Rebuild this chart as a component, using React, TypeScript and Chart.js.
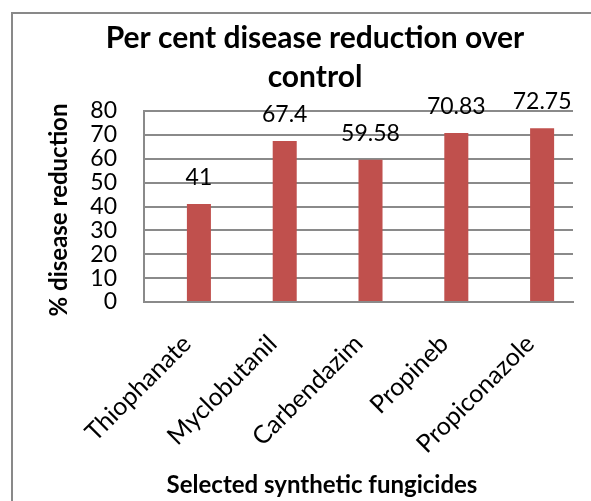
import React, { useEffect, useRef } from "react";
import { Chart, registerables } from "chart.js";

Chart.register(...registerables);

const categories = ["Thiophanate", "Myclobutanil", "Carbendazim", "Propineb", "Propiconazole"];
const reduction = [41, 67.4, 59.58, 70.83, 72.75];
const emptySeries = [null, null, null, null, null];
const titleLines = ["Per cent disease reduction over", "control"];
const yTitle = "% disease reduction";
const xTitle = "Selected synthetic fungicides";

const FONT = "Lato, 'Open Sans', sans-serif";
const BAR = "#C0504D";
const GRID = "#8a8a8a";

const decorPlugin = {
  id: "decor",
  beforeDraw(chart: any) {
    const ctx = chart.ctx;
    ctx.save();
    ctx.fillStyle = "#fff";
    ctx.fillRect(0, 0, chart.width, chart.height);
    ctx.strokeStyle = "#898989";
    ctx.lineWidth = 2;
    ctx.strokeRect(12, 13, 800, 800);
    ctx.restore();
  },
  afterDatasetsDraw(chart: any) {
    const ctx = chart.ctx;
    ctx.save();
    const meta = chart.getDatasetMeta(1);
    ctx.font = `23px ${FONT}`;
    ctx.fillStyle = "#000";
    ctx.textAlign = "center";
    ctx.textBaseline = "alphabetic";
    meta.data.forEach((el: any, i: number) => {
      ctx.fillText(String(reduction[i]), el.x, el.y - 19);
    });
    ctx.font = `bold 30px ${FONT}`;
    ctx.fillText(titleLines[0], 315, 48);
    ctx.fillText(titleLines[1], 315, 87);
    ctx.font = `bold 24px ${FONT}`;
    ctx.fillText(xTitle, 322, 493);
    ctx.translate(67, 210);
    ctx.rotate(-Math.PI / 2);
    ctx.fillText(yTitle, 0, 0);
    ctx.restore();
  },
};

export default function App() {
  const ref = useRef<HTMLCanvasElement>(null);
  useEffect(() => {
    if (!ref.current) return;
    const chart = new Chart(ref.current, {
      type: "bar",
      data: {
        labels: categories,
        datasets: [
          { label: "", data: emptySeries as any, backgroundColor: BAR },
          { label: "% disease reduction", data: reduction, backgroundColor: BAR },
        ],
      },
      options: {
        responsive: false,
        animation: false,
        devicePixelRatio: 1,
        layout: { padding: { top: 111, left: 0, right: 18, bottom: 0 } },
        plugins: { legend: { display: false }, tooltip: { enabled: false }, title: { display: false } },
        datasets: { bar: { categoryPercentage: 0.56, barPercentage: 1.0 } },
        scales: {
          x: {
            grid: { display: false, drawTicks: false },
            border: { display: true, color: GRID, width: 2 },
            ticks: {
              autoSkip: false,
              minRotation: 45,
              maxRotation: 45,
              padding: 27,
              color: "#000",
              font: { family: FONT, size: 25 },
            },
            afterFit: (s: any) => { s.height = 199; },
          },
          y: {
            min: 0,
            max: 80,
            grid: { color: GRID, lineWidth: 2, drawTicks: false },
            border: { display: true, color: GRID, width: 2 },
            ticks: {
              stepSize: 10,
              autoSkip: false,
              padding: 27,
              color: "#000",
              font: { family: FONT, size: 23 },
            },
            afterFit: (s: any) => { s.width = 144; },
          },
        },
      },
      plugins: [decorPlugin],
    });
    return () => chart.destroy();
  }, []);
  return (
    <div style={{ position: "absolute", left: 0, top: 0, width: 591, height: 501 }}>
      <canvas ref={ref} width={591} height={501} />
    </div>
  );
}
